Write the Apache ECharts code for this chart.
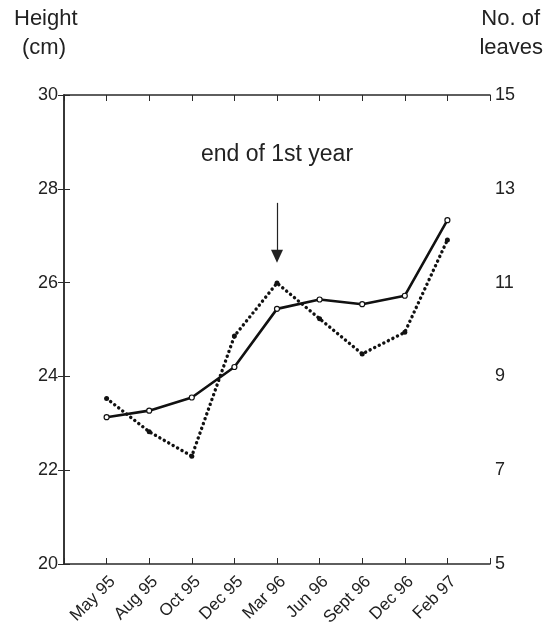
<!DOCTYPE html>
<html>
<head>
<meta charset="utf-8">
<script src="https://cdn.jsdelivr.net/npm/echarts@6/dist/echarts.min.js"></script>
<style>
html,body{margin:0;padding:0;background:#fff;}
#chart{width:549px;height:622px;}
</style>
</head>
<body>
<div id="chart"></div>
<script>
var categories = ['May 95','Aug 95','Oct 95','Dec 95','Mar 96','Jun 96','Sept 96','Dec 96','Feb 97'];
var heightCm = [23.13, 23.27, 23.55, 24.2, 25.44, 25.64, 25.54, 25.72, 27.33];
var leaves = [8.53, 7.82, 7.3, 9.86, 10.99, 10.23, 9.48, 9.94, 11.91];
var leftTicks = [20, 22, 24, 26, 28, 30];
var rightTicks = [5, 7, 9, 11, 13, 15];
var annotationText = 'end of 1st year';
var annotationIndex = 5; // position of Mar 96 (1-based)

var font = '"Liberation Sans", Arial, sans-serif';
var axisColor = '#2a2a2a';
function pairs(vals){ return vals.map(function(v,i){ return [i+1, v]; }); }

var chart = echarts.init(document.getElementById('chart'));
chart.setOption({
  backgroundColor: '#fff',
  animation: false,
  textStyle: { fontFamily: font },
  grid: { left: 64, right: 59, top: 95, bottom: 58, containLabel: false, outerBoundsMode: 'none' },
  graphic: [
    { type: 'text', left: 14, top: 8, style: { text: 'Height', font: '22px ' + font, fill: '#222' } },
    { type: 'text', left: 22, top: 37, style: { text: '(cm)', font: '22px ' + font, fill: '#222' } },
    { type: 'text', right: 9, top: 8, style: { text: 'No. of', font: '22px ' + font, fill: '#222' } },
    { type: 'text', right: 6, top: 37, style: { text: 'leaves', font: '22px ' + font, fill: '#222' } }
  ],
  xAxis: [
    {
      type: 'value', min: 0, max: categories.length + 1, interval: 1, position: 'bottom',
      axisLine: { show: true, lineStyle: { color: axisColor, width: 1.5 } },
      axisTick: { show: true, inside: true, length: 6, lineStyle: { color: axisColor, width: 1 } },
      splitLine: { show: false },
      axisLabel: {
        rotate: 45, fontSize: 17, color: '#222', margin: 9, fontFamily: font, verticalAlign: 'top',
        formatter: function(v){ return (v >= 1 && v <= categories.length) ? categories[v-1] : ''; }
      }
    },
    {
      type: 'value', min: 0, max: categories.length + 1, interval: 1, position: 'top',
      axisLine: { show: true, lineStyle: { color: axisColor, width: 1.5 } },
      axisTick: { show: true, inside: true, length: 6, lineStyle: { color: axisColor, width: 1 } },
      splitLine: { show: false },
      axisLabel: { show: false }
    }
  ],
  yAxis: [
    {
      type: 'value', min: leftTicks[0], max: leftTicks[leftTicks.length-1], interval: 2, position: 'left',
      axisLine: { show: true, lineStyle: { color: axisColor, width: 1.5 } },
      axisTick: { show: true, inside: true, length: 6, lineStyle: { color: axisColor, width: 1 } },
      splitLine: { show: false },
      axisLabel: { fontSize: 18, color: '#222', margin: 6, fontFamily: font }
    },
    {
      type: 'value', min: rightTicks[0], max: rightTicks[rightTicks.length-1], interval: 2, position: 'right',
      axisLine: { show: true, lineStyle: { color: axisColor, width: 1.5 } },
      axisTick: { show: true, inside: true, length: 6, lineStyle: { color: axisColor, width: 1 } },
      splitLine: { show: false },
      axisLabel: { fontSize: 18, color: '#222', margin: 5, fontFamily: font }
    }
  ],
  series: [
    {
      name: 'Height', type: 'line', xAxisIndex: 0, yAxisIndex: 0,
      data: pairs(heightCm),
      symbol: 'circle', symbolSize: 5,
      itemStyle: { color: '#fff', borderColor: '#111', borderWidth: 1.2 },
      lineStyle: { color: '#111', width: 2.6, type: 'solid' },
      z: 3,
      markLine: {
        silent: true, symbol: ['none', 'triangle'], symbolSize: [12, 13],
        lineStyle: { color: '#222', width: 1.2, type: 'solid' },
        label: { show: false },
        data: [[ { coord: [annotationIndex, 27.7] }, { coord: [annotationIndex, 26.56] } ]]
      },
      markPoint: {
        silent: true, symbol: 'circle', symbolSize: 0,
        label: { show: true, position: 'inside', formatter: annotationText, fontSize: 23, color: '#222', fontFamily: font },
        data: [ { coord: [annotationIndex, 28.72] } ]
      }
    },
    {
      name: 'Leaves', type: 'line', xAxisIndex: 0, yAxisIndex: 1,
      data: pairs(leaves),
      symbol: 'circle', symbolSize: 5,
      itemStyle: { color: '#111' },
      lineStyle: { color: '#111', width: 3.4, type: [0.1, 5], cap: 'round' },
      z: 2
    }
  ]
});
</script>
</body>
</html>
